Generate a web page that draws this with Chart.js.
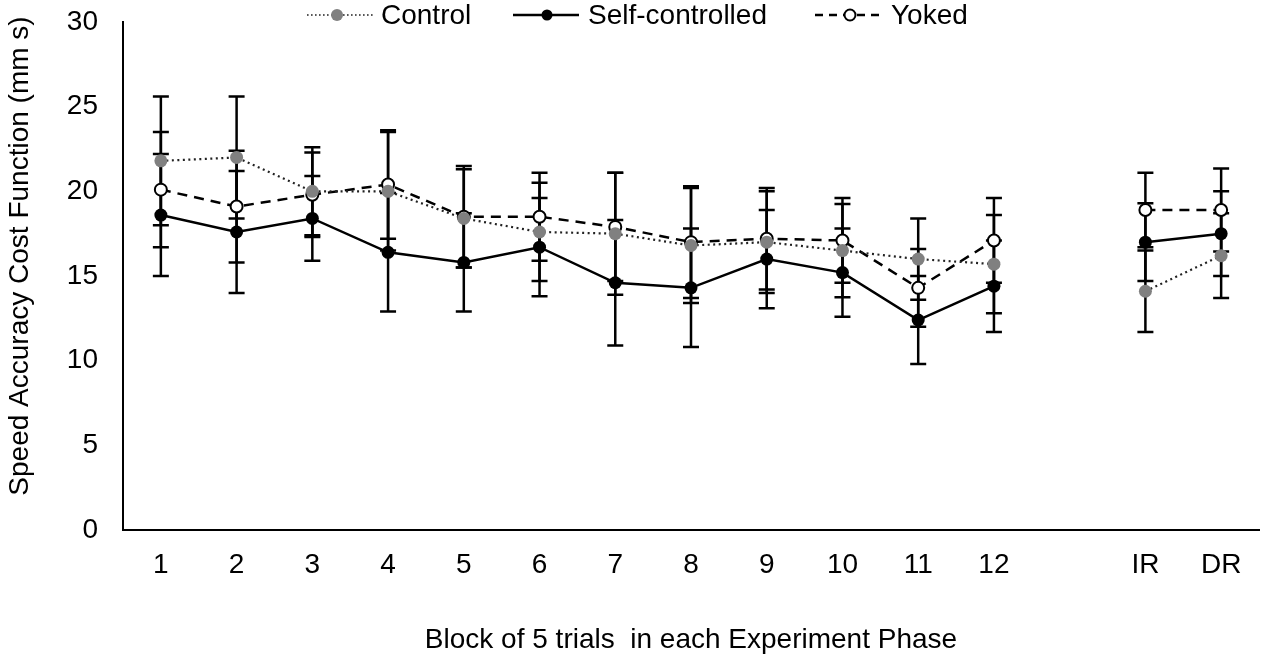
<!DOCTYPE html>
<html>
<head>
<meta charset="utf-8">
<script src="https://cdn.jsdelivr.net/npm/chart.js@4/dist/chart.umd.min.js"></script>
<style>
  html, body { margin: 0; padding: 0; background: #fff; }
  #wrap { position: relative; width: 1267px; height: 660px; }
  #legend { position: absolute; left: 0; top: 0; width: 1267px; height: 34px; pointer-events: none; }
  .lg-sym { position: absolute; top: 0; }
  .lg-txt { position: absolute; top: 1px; font-family: 'Liberation Sans', Arial, sans-serif; font-size: 28px; line-height: 28px; color: #000; white-space: nowrap; }
</style>
</head>
<body>
<div id="wrap">
  <canvas id="c" width="1267" height="660"></canvas>
  <div id="legend">
    <svg class="lg-sym" style="left:305px" width="72" height="30">
      <line x1="2" y1="15" x2="68" y2="15" stroke="#222" stroke-width="1.6" stroke-dasharray="1.6,2.4"/>
      <circle cx="32" cy="15" r="6" fill="#808080"/>
    </svg>
    <span class="lg-txt" style="left:381px">Control</span>
    <svg class="lg-sym" style="left:511px" width="72" height="30">
      <line x1="2" y1="15" x2="68" y2="15" stroke="#000" stroke-width="2.5"/>
      <circle cx="36" cy="15" r="5.5" fill="#000"/>
    </svg>
    <span class="lg-txt" style="left:588px">Self-controlled</span>
    <svg class="lg-sym" style="left:813px" width="74" height="30">
      <line x1="2" y1="15" x2="71" y2="15" stroke="#000" stroke-width="2.5" stroke-dasharray="8,6"/>
      <circle cx="37" cy="15" r="5.5" fill="#fff" stroke="#000" stroke-width="2"/>
    </svg>
    <span class="lg-txt" style="left:891px">Yoked</span>
  </div>
</div>
<script>
// ---- Data ----
const categories = ['1','2','3','4','5','6','7','8','9','10','11','12','','IR','DR'];
const controlMeans = [21.8, 22.0, 20.0, 20.0, 18.4, 17.6, 17.5, 16.8, 17.0, 16.5, 16.0, 15.7, null, 14.1, 16.2];
const selfMeans    = [18.6, 17.6, 18.4, 16.4, 15.8, 16.7, 14.6, 14.3, 16.0, 15.2, 12.4, 14.4, null, 17.0, 17.5];
const yokedMeans   = [20.1, 19.1, 19.8, 20.4, 18.5, 18.5, 17.9, 17.0, 17.2, 17.1, 14.3, 17.1, null, 18.9, 18.9];
const controlErr   = [3.8, 3.6, 2.6, 3.5, 2.9, 2.9, 3.6, 3.4, 3.0, 2.75, 2.4, 2.9, null, 2.4, 2.5];
const selfErr      = [3.6, 3.6, 2.5, 3.5, 2.9, 2.9, 3.7, 3.5, 2.9, 2.6, 2.6, 2.7, null, 2.3, 2.5];
const yokedErr     = [3.4, 3.3, 2.5, 3.2, 3.0, 2.6, 3.2, 3.3, 3.0, 2.5, 2.3, 2.5, null, 2.2, 2.45];
const yTicks = [0, 5, 10, 15, 20, 25, 30];
const xTitle = 'Block of 5 trials  in each Experiment Phase';
const yTitle = 'Speed Accuracy Cost Function (mm s)';

const FONT = "'Liberation Sans', Arial, sans-serif";

const errorBars = {
  id: 'errorBars',
  beforeDatasetsDraw(chart) {
    const ctx = chart.ctx;
    const yScale = chart.scales.y;
    ctx.save();
    ctx.strokeStyle = '#000';
    ctx.lineWidth = 2.5;
    ctx.setLineDash([]);
    chart.data.datasets.forEach((ds, i) => {
      const meta = chart.getDatasetMeta(i);
      ds.errors.forEach((e, j) => {
        const v = ds.data[j];
        if (v === null || e === null) return;
        const x = meta.data[j].x;
        const yTop = yScale.getPixelForValue(v + e);
        const yBot = yScale.getPixelForValue(v - e);
        ctx.beginPath();
        ctx.moveTo(x, yTop); ctx.lineTo(x, yBot);
        ctx.moveTo(x - 8, yTop); ctx.lineTo(x + 8, yTop);
        ctx.moveTo(x - 8, yBot); ctx.lineTo(x + 8, yBot);
        ctx.stroke();
      });
    });
    ctx.restore();
  }
};

const yTitlePlugin = {
  id: 'yTitlePlugin',
  afterDraw(chart) {
    const ctx = chart.ctx;
    ctx.save();
    ctx.translate(20, 256);
    ctx.rotate(-Math.PI / 2);
    ctx.textAlign = 'center';
    ctx.textBaseline = 'middle';
    ctx.fillStyle = '#000';
    ctx.font = '28px ' + FONT;
    ctx.fillText(yTitle, 0, 0);
    ctx.restore();
  }
};

new Chart(document.getElementById('c'), {
  type: 'line',
  data: {
    labels: categories,
    datasets: [
      {
        label: 'Control', data: controlMeans, errors: controlErr,
        borderColor: '#222', borderWidth: 2.2, borderDash: [2, 3.5],
        pointRadius: 6.5, pointBackgroundColor: '#808080', pointBorderColor: '#808080', pointBorderWidth: 0,
        tension: 0, spanGaps: false
      },
      {
        label: 'Self-controlled', data: selfMeans, errors: selfErr,
        borderColor: '#000', borderWidth: 2.5,
        pointRadius: 6.5, pointBackgroundColor: '#000', pointBorderColor: '#000', pointBorderWidth: 0,
        tension: 0, spanGaps: false
      },
      {
        label: 'Yoked', data: yokedMeans, errors: yokedErr,
        borderColor: '#000', borderWidth: 2.5, borderDash: [10, 7],
        pointRadius: 6, pointBackgroundColor: '#fff', pointBorderColor: '#000', pointBorderWidth: 2,
        tension: 0, spanGaps: false
      }
    ]
  },
  options: {
    responsive: false,
    animation: false,
    devicePixelRatio: 1,
    layout: { padding: { top: 22, right: 4, left: 0, bottom: 0 } },
    plugins: { legend: { display: false }, tooltip: { enabled: false } },
    scales: {
      x: {
        type: 'category',
        offset: true,
        grid: { display: false, drawTicks: false },
        border: { display: true, color: '#000', width: 2 },
        ticks: { color: '#000', font: { family: FONT, size: 28 }, padding: 18, maxRotation: 0, autoSkip: false },
        title: { display: true, text: xTitle, color: '#000', font: { family: FONT, size: 28 }, padding: { top: 0, bottom: 3 } },
        afterFit(s) { s.height = 130; }
      },
      y: {
        min: 0, max: 30,
        afterBuildTicks(s) { s.ticks = yTicks.map(v => ({ value: v })); },
        grid: { display: false, drawTicks: false },
        border: { display: true, color: '#000', width: 2 },
        ticks: { color: '#000', font: { family: FONT, size: 28 }, padding: 25 },
        afterFit(s) { s.width = 123; s.paddingTop = 0; s.paddingBottom = 0; }
      }
    }
  },
  plugins: [errorBars, yTitlePlugin]
});
</script>
</body>
</html>
